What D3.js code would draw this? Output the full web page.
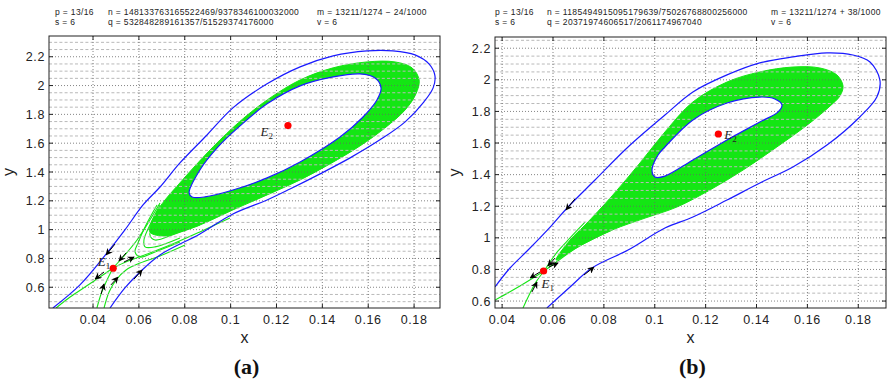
<!DOCTYPE html>
<html>
<head>
<meta charset="utf-8">
<script src="https://d3js.org/d3.v7.min.js"></script>
<style>
  body { margin: 0; background: #fff; }
  svg text { font-family: "Liberation Sans", Arial, sans-serif; }
</style>
</head>
<body>
<script>
// ---------- shared ticks ----------
const xTicks = [0.04, 0.06, 0.08, 0.1, 0.12, 0.14, 0.16, 0.18];
const yTicks = [0.6, 0.8, 1, 1.2, 1.4, 1.6, 1.8, 2, 2.2];

// ---------- panel (a) ----------
const headerA = [
  ["p = 13/16", "n = 148133763165522469/9378346100032000", "m = 13211/1274 \u2212 24/1000"],
  ["s = 6", "q = 532848289161357/51529374176000", "v = 6"]
];
const outerBlueA = [[0.0225,0.456],[0.0343,0.616],[0.0461,0.838],[0.0539,0.998],[0.0618,1.171],[0.0692,1.296],
  [0.0779,1.463],[0.0897,1.657],[0.1010,1.845],[0.1159,2.012],[0.1303,2.130],[0.1447,2.206],[0.1595,2.241],
  [0.1708,2.241],[0.1804,2.213],[0.1865,2.150],[0.1891,2.067],[0.1883,1.984],[0.1843,1.887],[0.1761,1.748],
  [0.1651,1.623],[0.1521,1.498],[0.1390,1.387],[0.1259,1.282],[0.1159,1.206],[0.1010,1.109],[0.0866,0.970],
  [0.0692,0.824],[0.0605,0.706],[0.0539,0.595],[0.0474,0.456]];
const innerBlueA = [[0.0819,1.255],[0.0866,1.414],[0.0945,1.574],[0.1041,1.720],[0.1159,1.873],[0.1303,1.998],
  [0.1447,2.060],[0.1564,2.081],[0.1630,2.053],[0.1656,1.984],[0.1638,1.900],[0.1573,1.775],[0.1477,1.643],
  [0.1303,1.470],[0.1159,1.359],[0.1010,1.275],[0.0888,1.227],[0.0832,1.227]];
const greenBandA = [[0.0648,0.984],[0.0670,1.102],[0.0714,1.206],[0.0771,1.310],[0.0845,1.442],[0.0954,1.623],
  [0.1063,1.782],[0.1172,1.914],[0.1303,2.039],[0.1447,2.123],[0.1595,2.164],[0.1717,2.164],[0.1791,2.123],
  [0.1822,2.039],[0.1808,1.942],[0.1761,1.831],[0.1673,1.706],[0.1564,1.581],[0.1433,1.456],[0.1303,1.345],
  [0.1159,1.241],[0.1010,1.137],[0.0866,1.032],[0.0779,0.984],[0.0714,0.956]];
const greenLinesA = [
  [[0.0692,1.185],[0.0648,1.067],[0.0592,0.928],[0.0531,0.810],[0.0487,0.734]],
  [[0.0417,0.456],[0.0435,0.553],[0.0457,0.637],[0.0487,0.734]],
  [[0.0487,0.734],[0.0430,0.671],[0.0365,0.602],[0.0300,0.532],[0.0239,0.456]],
  [[0.0487,0.734],[0.0553,0.782],[0.0648,0.838],[0.0757,0.907],[0.0866,0.984],[0.0997,1.081]],
  [[0.0448,0.456],[0.0470,0.567],[0.0500,0.650],[0.0544,0.720],[0.0605,0.768],[0.0692,0.817],[0.0801,0.893]],
  [[0.0679,1.171],[0.0631,1.032],[0.0596,0.907],[0.0583,0.845],[0.0605,0.810],[0.0670,0.845],[0.0779,0.914]],
  [[0.0692,1.171],[0.0648,1.032],[0.0622,0.928],[0.0627,0.880],[0.0670,0.880],[0.0779,0.942]],
  [[0.0705,1.164],[0.0670,1.053],[0.0648,0.963],[0.0670,0.928],[0.0757,0.970],[0.0866,1.032]]
];
const arrowsA = [[0.0496,0.900,0.0457,0.824],[0.0544,0.838,0.0513,0.782],[0.0535,0.775,0.0579,0.810],
  [0.0448,0.706,0.0409,0.657],[0.0435,0.553,0.0448,0.623],[0.0478,0.616,0.0509,0.671],[0.0579,0.657,0.0614,0.720]];
const equilibriaA = [{name: "1", x: 0.0488, y: 0.732}, {name: "2", x: 0.125, y: 1.722}];

// ---------- panel (b) ----------
const headerB = [
  ["p = 13/16", "n = 1185494915095179639/75026768800256000", "m = 13211/1274 + 38/1000"],
  ["s = 6", "q = 20371974606517/2061174967040", "v = 6"]
];
const outerBlueB = [[0.0372,0.689],[0.0431,0.809],[0.0502,0.923],[0.0596,1.081],[0.0659,1.195],[0.0765,1.366],
  [0.0895,1.575],[0.1040,1.777],[0.1150,1.923],[0.1284,2.031],[0.1413,2.107],[0.1543,2.145],[0.1677,2.170],
  [0.1779,2.157],[0.1846,2.113],[0.1885,1.999],[0.1873,1.891],[0.1806,1.765],[0.1677,1.587],[0.1543,1.448],
  [0.1413,1.347],[0.1284,1.239],[0.1150,1.132],[0.1040,1.062],[0.0895,0.923],[0.0753,0.809],[0.0667,0.689],
  [0.0576,0.556]];
const innerBlueB = [[0.0989,1.429],[0.1013,1.524],[0.1040,1.575],[0.1150,1.746],[0.1284,1.853],[0.1413,1.891],
  [0.1472,1.879],[0.1500,1.841],[0.1484,1.796],[0.1413,1.733],[0.1284,1.619],[0.1150,1.493],[0.1040,1.391],
  [0.1001,1.385]];
const greenBandB = [[0.0612,0.860],[0.0667,0.986],[0.0726,1.081],[0.0832,1.265],[0.0942,1.474],[0.1040,1.670],
  [0.1150,1.860],[0.1284,1.986],[0.1413,2.050],[0.1543,2.081],[0.1649,2.075],[0.1716,2.031],[0.1740,1.961],
  [0.1728,1.898],[0.1689,1.834],[0.1610,1.727],[0.1480,1.575],[0.1347,1.429],[0.1217,1.303],[0.1087,1.195],
  [0.0962,1.125],[0.0832,1.049],[0.0698,0.942]];
const greenLinesB = [
  [[0.0565,0.790],[0.0470,0.695],[0.0372,0.606]],
  [[0.0565,0.790],[0.0588,0.847],[0.0620,0.917],[0.0667,0.999],[0.0726,1.100]],
  [[0.0482,0.556],[0.0510,0.651],[0.0533,0.720],[0.0565,0.790]],
  [[0.0565,0.790],[0.0608,0.841],[0.0698,0.942],[0.0832,1.049]]
];
const arrowsB = [[0.0686,1.246,0.0651,1.176],[0.0549,0.784,0.0510,0.746],[0.0517,0.657,0.0537,0.720],
  [0.0608,0.872,0.0580,0.822],[0.0584,0.815,0.0620,0.841],[0.0722,0.765,0.0761,0.815]];
const equilibriaB = [{name: "1", x: 0.0563, y: 0.790}, {name: "2", x: 0.125, y: 1.657}];

const svg = d3.select("body").append("svg").attr("width", 889).attr("height", 381);

svg.append("defs").append("marker")
  .attr("id", "head").attr("viewBox", "0 0 10 10").attr("refX", 9).attr("refY", 5)
  .attr("markerWidth", 7).attr("markerHeight", 7).attr("markerUnits", "userSpaceOnUse")
  .attr("orient", "auto")
  .append("path").attr("d", "M0,0L10,5L0,10L3,5Z").attr("fill", "#000");

function drawPanel(p) {
  const x = d3.scaleLinear().domain(p.xDomain).range([p.left, p.right]);
  const y = d3.scaleLinear().domain(p.yDomain).range([p.bottom, p.top]);
  const g = svg.append("g");

  // header lines
  p.header.forEach((row, i) => row.forEach((t, j) => {
    g.append("text").attr("x", p.headerX[j]).attr("y", 15 + i * 10)
      .attr("font-size", 8.5).attr("letter-spacing", 0.35).attr("fill", "#222").text(t);
  }));

  const clipId = "clip" + p.id;
  g.append("clipPath").attr("id", clipId).append("rect")
    .attr("x", p.left).attr("y", p.top).attr("width", p.right - p.left).attr("height", p.bottom - p.top);
  const plot = g.append("g").attr("clip-path", `url(#${clipId})`);

  const closed = d3.line().x(d => x(d[0])).y(d => y(d[1])).curve(d3.curveCatmullRomClosed);
  const open = d3.line().x(d => x(d[0])).y(d => y(d[1])).curve(d3.curveCatmullRom);

  // green band, hole, separatrices
  plot.append("path").attr("d", closed(p.band)).attr("fill", "#14e614").attr("stroke", "#14e614").attr("stroke-width", 1);
  plot.append("path").attr("d", closed(p.inner)).attr("fill", "#fff");
  plot.selectAll(".gl").data(p.greenLines).join("path")
    .attr("d", open).attr("fill", "none").attr("stroke", "#14e614").attr("stroke-width", 1.1);

  // grid (drawn over the fill)
  const minor = d3.range(0.5, 2.36, 0.05).filter(v => yTicks.every(t => Math.abs(t - v) > 0.01));
  plot.selectAll(".mg").data(minor).join("line")
    .attr("x1", p.left).attr("x2", p.right).attr("y1", d => y(d)).attr("y2", d => y(d))
    .attr("stroke", "#b9b9b9").attr("stroke-width", 1).attr("stroke-dasharray", "3,2.2");
  plot.selectAll(".gy").data(yTicks).join("line")
    .attr("x1", p.left).attr("x2", p.right).attr("y1", d => y(d)).attr("y2", d => y(d))
    .attr("stroke", "#666").attr("stroke-width", 0.8).attr("stroke-dasharray", "1,2");
  plot.selectAll(".gx").data(xTicks).join("line")
    .attr("y1", p.top).attr("y2", p.bottom).attr("x1", d => x(d)).attr("x2", d => x(d))
    .attr("stroke", "#666").attr("stroke-width", 0.8).attr("stroke-dasharray", "1,2");

  // blue orbits
  plot.append("path").attr("d", open(p.outer)).attr("fill", "none").attr("stroke", "#1a1aff").attr("stroke-width", 1.2);
  plot.append("path").attr("d", closed(p.inner)).attr("fill", "none").attr("stroke", "#1a1aff").attr("stroke-width", 1.2);

  // arrows
  plot.selectAll(".ar").data(p.arrows).join("line")
    .attr("x1", d => x(d[0])).attr("y1", d => y(d[1])).attr("x2", d => x(d[2])).attr("y2", d => y(d[3]))
    .attr("stroke", "#000").attr("stroke-width", 1).attr("marker-end", "url(#head)");

  // equilibria
  plot.selectAll(".eq").data(p.eq).join("circle")
    .attr("cx", d => x(d.x)).attr("cy", d => y(d.y)).attr("r", 3.6).attr("fill", "#f00");
  p.eq.forEach((d, i) => {
    const t = g.append("text").attr("x", x(d.x) + p.labelOff[i][0]).attr("y", y(d.y) + p.labelOff[i][1])
      .attr("text-anchor", p.labelOff[i][2]).attr("fill", "#222")
      .style("font-family", "'Liberation Serif', 'Times New Roman', serif").attr("font-size", 13);
    t.append("tspan").attr("font-style", "italic").text("E");
    t.append("tspan").attr("font-size", 9).attr("dy", 3).text(d.name);
  });

  // frame and inward ticks
  g.append("rect").attr("x", p.left).attr("y", p.top).attr("width", p.right - p.left).attr("height", p.bottom - p.top)
    .attr("fill", "none").attr("stroke", "#222").attr("stroke-width", 1);
  xTicks.forEach(v => {
    g.append("line").attr("x1", x(v)).attr("x2", x(v)).attr("y1", p.bottom).attr("y2", p.bottom - 4).attr("stroke", "#222");
    g.append("line").attr("x1", x(v)).attr("x2", x(v)).attr("y1", p.top).attr("y2", p.top + 4).attr("stroke", "#222");
    g.append("text").attr("x", x(v)).attr("y", p.bottom + 16).attr("text-anchor", "middle")
      .attr("font-size", 12.5).attr("letter-spacing", 0.6).attr("fill", "#222").text(String(v));
  });
  yTicks.forEach(v => {
    g.append("line").attr("y1", y(v)).attr("y2", y(v)).attr("x1", p.left).attr("x2", p.left + 4).attr("stroke", "#222");
    g.append("line").attr("y1", y(v)).attr("y2", y(v)).attr("x1", p.right).attr("x2", p.right - 4).attr("stroke", "#222");
    g.append("text").attr("x", p.left - 4).attr("y", y(v) + 4.5).attr("text-anchor", "end")
      .attr("font-size", 12.5).attr("letter-spacing", 0.6).attr("fill", "#222").text(String(v));
  });

  // axis titles and panel tag
  g.append("text").attr("x", (p.left + p.right) / 2).attr("y", 343).attr("text-anchor", "middle")
    .attr("font-size", 16).attr("fill", "#222").text("x");
  g.append("text").attr("transform", `translate(${p.left - 35},${(p.top + p.bottom) / 2}) rotate(-90)`)
    .attr("text-anchor", "middle").attr("font-size", 16).attr("fill", "#222").text("y");
  g.append("text").attr("x", (p.left + p.right) / 2 + 2).attr("y", 374).attr("text-anchor", "middle")
    .style("font-family", "'Liberation Serif', 'Times New Roman', serif").attr("font-weight", "bold")
    .attr("font-size", 22).attr("fill", "#111").text(p.tag);
}

drawPanel({
  id: "a", tag: "(a)", left: 49, right: 440, top: 36, bottom: 308,
  xDomain: [0.0208, 0.1913], yDomain: [0.456, 2.344],
  header: headerA, headerX: [55, 108, 317],
  outer: outerBlueA, inner: innerBlueA, band: greenBandA, greenLines: greenLinesA,
  arrows: arrowsA, eq: equilibriaA, labelOff: [[-3, -2, "end"], [-15, 10, "end"]]
});
drawPanel({
  id: "b", tag: "(b)", left: 495, right: 886, top: 37, bottom: 308,
  xDomain: [0.0372, 0.1909], yDomain: [0.556, 2.271],
  header: headerB, headerX: [495, 547, 771],
  outer: outerBlueB, inner: innerBlueB, band: greenBandB, greenLines: greenLinesB,
  arrows: arrowsB, eq: equilibriaB, labelOff: [[-2, 17, "start"], [6, 5, "start"]]
});
</script>
</body>
</html>
